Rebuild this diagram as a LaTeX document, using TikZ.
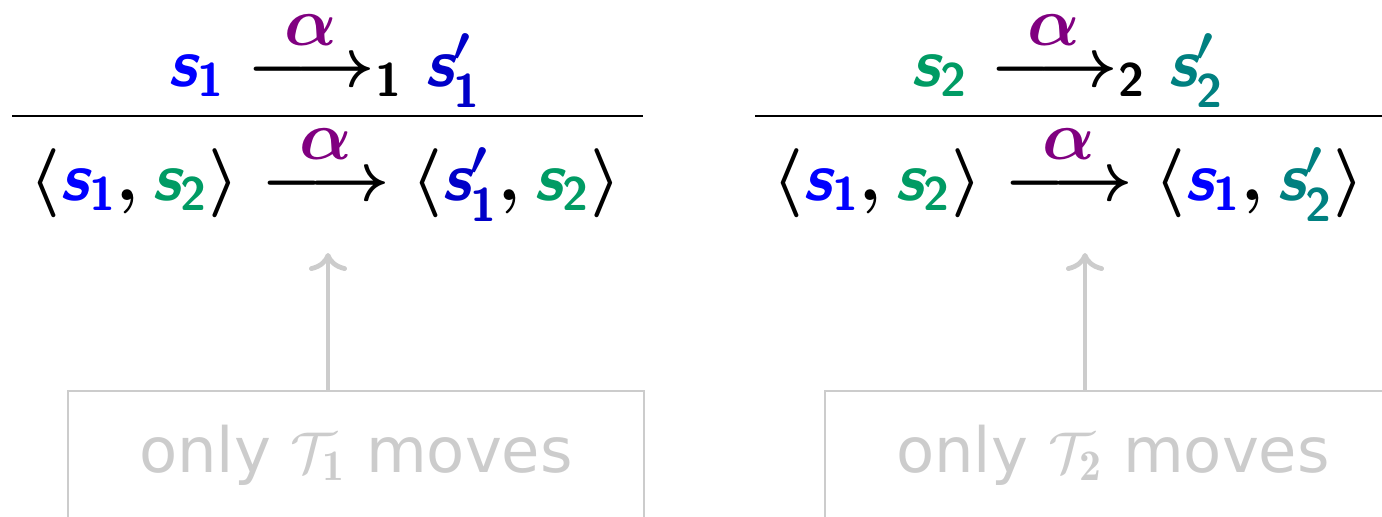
\documentclass[tikz,border=0pt]{standalone}
\usepackage{amsmath}
\usepackage{fontspec}
\newfontfamily\txtfont{DejaVu Sans}
\usetikzlibrary{arrows.meta}
\definecolor{sblue}{RGB}{0,0,255}
\definecolor{sdblue}{RGB}{0,0,200}
\definecolor{sgreen}{RGB}{0,155,100}
\definecolor{steal}{RGB}{0,128,128}
\definecolor{apurple}{RGB}{128,0,128}
\definecolor{lgray}{RGB}{204,204,204}
\newcommand\sv{\textsf{\bfseries\itshape s}}
\newcommand\sub[1]{\textsf{\bfseries #1}}
\newcommand\albl{\overset{\textstyle{\color{apurple}\alpha}}{\longrightarrow}}
\tikzset{
  formula/.style={anchor=base, inner sep=0pt, outer sep=0pt, font=\fontsize{16.8}{20}\selectfont\boldmath},
  rulebar/.style={line width=0.6pt, draw=black},
  gbox/.style={draw=lgray, line width=0.6pt, text=lgray, anchor=north,
    font=\txtfont\fontsize{15.6}{19}\selectfont, minimum width=144pt,
    text height=20.25pt, text depth=30pt, inner sep=0pt, outer sep=0pt},
  garrow/.style={draw=lgray, line width=1.2pt, -{To[length=4.5pt,width=9.5pt]}}
}
\begin{document}
\begin{tikzpicture}[x=0.25pt,y=-0.25pt]
\path[use as bounding box] (0,0) rectangle (1382,516);
\clip (0,0) rectangle (1382,516);
% left rule
\node[formula] (n1) at (325,86)
  {${\color{sblue}\sv_{\sub1}} \mathrel{{\albl}_{\sub1}} {\color{sdblue}\sv'_{\sub1}}$};
\draw[rulebar] (12,116) -- (643,116);
\node[formula] (d1) at (325.5,200)
  {$\langle {\color{sblue}\sv_{\sub1}}, {\color{sgreen}\sv_{\sub2}} \rangle \mathrel{\albl} \langle {\color{sdblue}\sv'_{\sub1}}, {\color{sgreen}\sv_{\sub2}} \rangle$};
% right rule
\node[formula] (n2) at (1068,86)
  {${\color{sgreen}\sv_{\sub2}} \mathrel{{\albl}_{\sub2}} {\color{steal}\sv'_{\sub2}}$};
\draw[rulebar] (755,116) -- (1400,116);
\node[formula] (d2) at (1068.5,200)
  {$\langle {\color{sblue}\sv_{\sub1}}, {\color{sgreen}\sv_{\sub2}} \rangle \mathrel{\albl} \langle {\color{sblue}\sv_{\sub1}}, {\color{steal}\sv'_{\sub2}} \rangle$};
% boxes
\node[gbox] (b1) at (356,391) {only $\mathcal{T}_{\mathbf{1}}$ moves};
\node[gbox] (b2) at (1113,391) {only $\mathcal{T}_{\mathbf{2}}$ moves};
\coordinate (t1) at (328,253);
\coordinate (t2) at (1085,253);
\draw[garrow] (b1.north -| t1) -- (t1);
\draw[garrow] (b2.north -| t2) -- (t2);
\end{tikzpicture}
\end{document}
